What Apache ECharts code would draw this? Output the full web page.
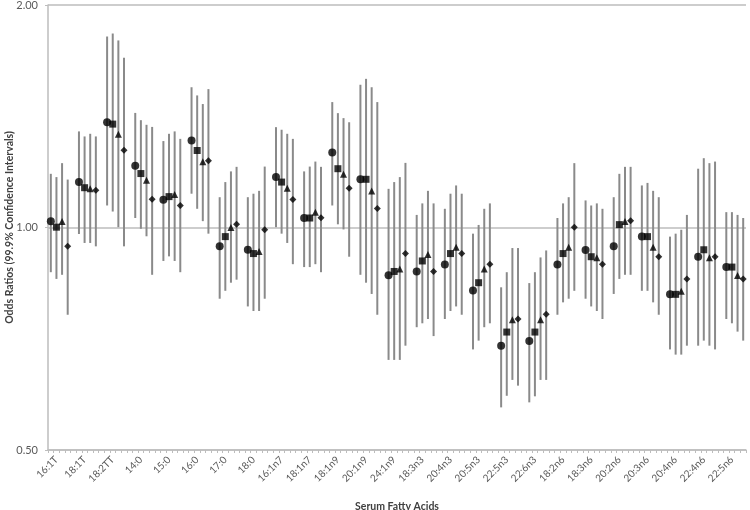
<!DOCTYPE html>
<html>
<head>
<meta charset="utf-8">
<script src="https://cdn.jsdelivr.net/npm/echarts@6/dist/echarts.min.js"></script>
<style>
  html, body { margin: 0; padding: 0; background: #fff; }
  #chart { width: 750px; height: 510px; }
</style>
</head>
<body>
<div id="chart"></div>
<script>
const categories = ['16:1T','18:1T','18:2TT','14:0','15:0','16:0','17:0','18:0','16:1n7','18:1n7','18:1n9','20:1n9','24:1n9','18:3n3','20:4n3','20:5n3','22:5n3','22:6n3','18:2n6','18:3n6','20:2n6','20:3n6','20:4n6','22:4n6','22:5n6'];
const yTicks = [0.5, 1, 2];

const circleOR = [1.020,1.152,1.388,1.212,1.090,1.311,0.943,0.933,1.170,1.030,1.263,1.162,0.862,0.872,0.891,0.822,0.692,0.702,0.891,0.932,0.943,0.972,0.812,0.913,0.884];
const circleLo = [0.870,0.980,1.071,1.030,0.901,1.111,0.801,0.782,1.001,0.884,1.071,0.863,0.662,0.733,0.752,0.684,0.571,0.580,0.762,0.801,0.813,0.821,0.684,0.692,0.752];
const circleHi = [1.182,1.349,1.813,1.429,1.309,1.548,1.099,1.099,1.367,1.191,1.478,1.560,1.128,1.040,1.060,0.981,0.830,0.841,1.030,1.088,1.099,1.140,0.972,1.201,1.049];

const squareOR = [1.001,1.132,1.380,1.183,1.101,1.271,0.972,0.922,1.152,1.030,1.201,1.162,0.872,0.901,0.922,0.842,0.722,0.722,0.922,0.913,1.009,0.972,0.812,0.933,0.884];
const squareLo = [0.852,0.953,1.051,0.996,0.914,1.060,0.821,0.771,0.981,0.884,1.010,0.842,0.662,0.742,0.771,0.703,0.592,0.591,0.792,0.782,0.852,0.821,0.673,0.703,0.742];
const squareHi = [1.170,1.328,1.830,1.397,1.339,1.509,1.152,1.111,1.356,1.209,1.428,1.589,1.152,1.078,1.111,1.008,0.870,0.870,1.078,1.071,1.182,1.149,0.981,1.241,1.049];

const triangleOR = [1.019,1.128,1.337,1.159,1.108,1.227,1.000,0.928,1.130,1.049,1.180,1.120,0.879,0.919,0.940,0.879,0.750,0.750,0.940,0.910,1.019,0.940,0.820,0.910,0.861];
const triangleLo = [0.863,0.953,1.001,0.973,0.901,1.020,0.842,0.771,0.953,0.892,0.994,0.813,0.662,0.752,0.782,0.733,0.622,0.622,0.801,0.771,0.863,0.792,0.673,0.692,0.723];
const triangleHi = [1.222,1.339,1.791,1.377,1.349,1.469,1.191,1.121,1.339,1.228,1.406,1.548,1.170,1.121,1.140,1.060,0.938,0.911,1.099,1.078,1.208,1.121,0.993,1.222,1.040];

const diamondOR = [0.943,1.123,1.272,1.092,1.071,1.231,1.010,0.993,1.091,1.031,1.130,1.061,0.922,0.872,0.922,0.892,0.752,0.763,1.001,0.892,1.021,0.913,0.852,0.913,0.852];
const diamondLo = [0.762,0.943,0.943,0.863,0.870,0.981,0.850,0.801,0.892,0.870,0.913,0.762,0.692,0.713,0.762,0.742,0.611,0.622,0.821,0.752,0.863,0.762,0.692,0.684,0.703];
const diamondHi = [1.161,1.328,1.697,1.368,1.318,1.539,1.208,1.209,1.318,1.208,1.388,1.478,1.223,1.078,1.111,1.078,0.938,0.931,1.222,1.060,1.208,1.099,1.040,1.228,1.030];

// slot layout: 5 slots per acid (4 markers + 1 gap), last gap dropped
const SLOTS = 5;
const LABEL_SLOT = 1;
const nSlots = categories.length * SLOTS - 1;
const slotLabels = [];
for (let i = 0; i < nSlots; i++) {
  slotLabels.push(i % SLOTS === LABEL_SLOT ? categories[(i - LABEL_SLOT) / SLOTS] : '');
}

const groups = [
  { or: circleOR, lo: circleLo, hi: circleHi, symbol: 'circle', size: 8 },
  { or: squareOR, lo: squareLo, hi: squareHi, symbol: 'rect', size: 7 },
  { or: triangleOR, lo: triangleLo, hi: triangleHi, symbol: 'triangle', size: 7 },
  { or: diamondOR, lo: diamondLo, hi: diamondHi, symbol: 'diamond', size: 7 }
];

const series = [];
groups.forEach((g, s) => {
  series.push({
    type: 'custom',
    z: 1,
    silent: true,
    data: categories.map((c, i) => [i * SLOTS + s, g.lo[i], g.hi[i]]),
    renderItem: function (params, api) {
      const p1 = api.coord([api.value(0), api.value(1)]);
      const p2 = api.coord([api.value(0), api.value(2)]);
      return {
        type: 'line',
        shape: { x1: p1[0], y1: p1[1], x2: p2[0], y2: p2[1] },
        style: { stroke: '#8a8a8a', lineWidth: 2 }
      };
    }
  });
});
groups.forEach((g, s) => {
  series.push({
    type: 'scatter',
    z: 3,
    symbol: g.symbol,
    symbolSize: g.size,
    itemStyle: { color: '#000' },
    data: categories.map((c, i) => [i * SLOTS + s, g.or[i]])
  });
});

const chart = echarts.init(document.getElementById('chart'), null, { renderer: 'canvas' });
chart.setOption({
  animation: false,
  backgroundColor: '#fff',
  grid: { left: 48, right: 4, top: 5, bottom: 60, containLabel: false, outerBoundsMode: 'none' },
  xAxis: {
    type: 'category',
    data: slotLabels,
    boundaryGap: true,
    name: 'Serum Fatty Acids',
    nameLocation: 'middle',
    nameGap: 51,
    nameMoveOverlap: false,
    nameTextStyle: { fontFamily: 'Lato', fontWeight: 'bold', fontSize: 10.5, color: '#404040' },
    axisLine: { lineStyle: { color: '#bdbdbd', width: 1.5 } },
    axisTick: { show: true, interval: 0, length: 3, lineStyle: { color: '#bdbdbd' } },
    axisLabel: {
      interval: 0, rotate: 45, margin: 8,
      fontFamily: 'Lato', fontSize: 10, color: '#595959'
    },
    splitLine: { show: false }
  },
  yAxis: {
    type: 'log',
    logBase: 2,
    min: yTicks[0],
    max: yTicks[yTicks.length - 1],
    name: 'Odds Ratios (99.9% Confidence Intervals)',
    nameLocation: 'middle',
    nameGap: 33,
    nameMoveOverlap: false,
    nameTextStyle: { fontFamily: 'Lato', fontWeight: 'bold', fontSize: 10.5, color: '#404040' },
    axisLine: { show: true, lineStyle: { color: '#bdbdbd', width: 1.5 } },
    axisTick: { show: true, length: 3, lineStyle: { color: '#bdbdbd' } },
    axisLabel: {
      fontFamily: 'Lato', fontSize: 11, color: '#595959', margin: 10,
      formatter: v => Number(v).toFixed(2)
    },
    splitLine: { show: true, lineStyle: { color: '#bdbdbd', width: 1.5 } }
  },
  series: series
});
</script>
</body>
</html>
